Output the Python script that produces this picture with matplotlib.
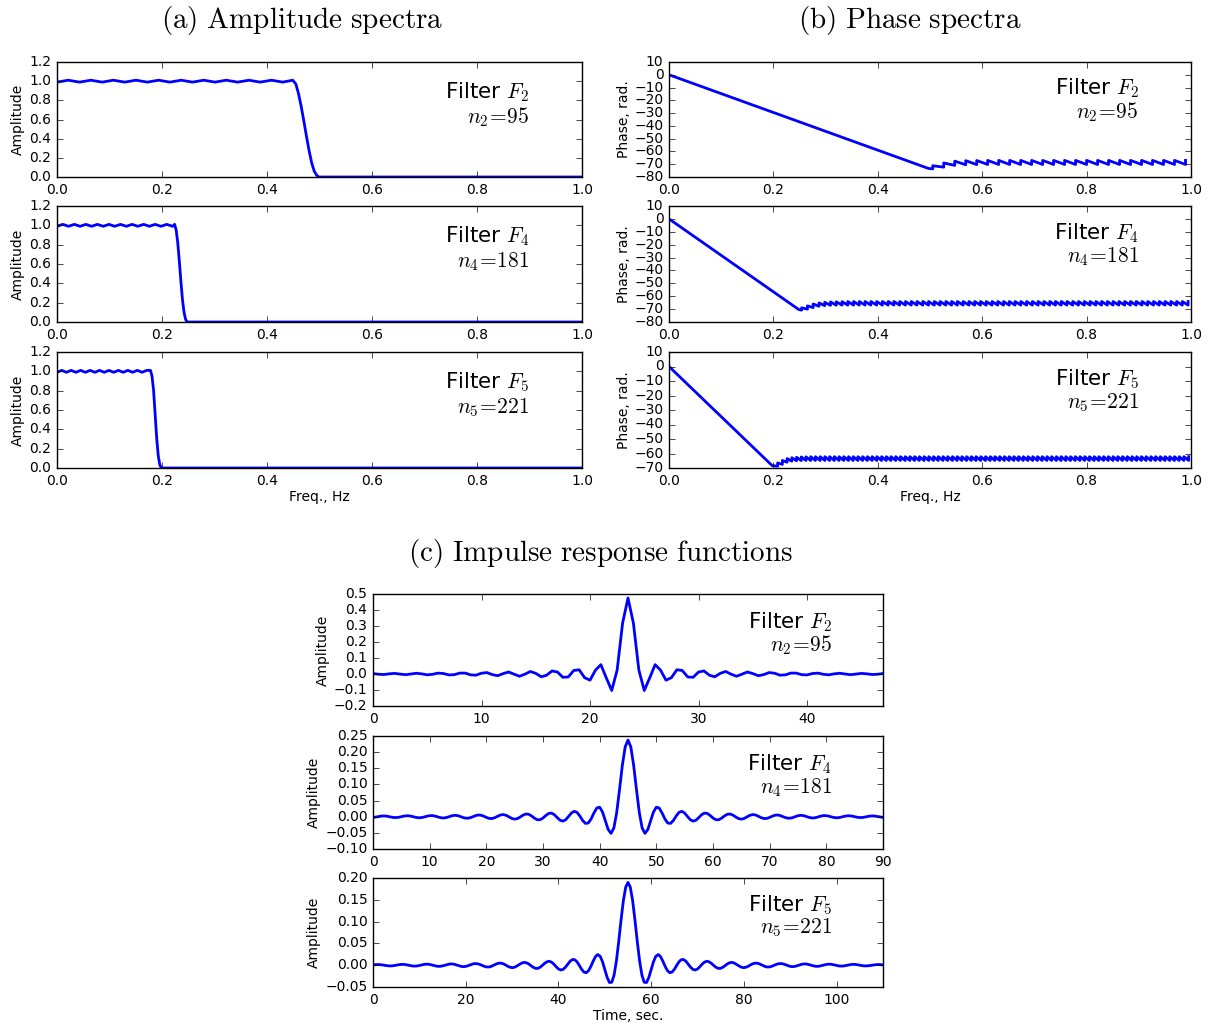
import numpy as np
import matplotlib
matplotlib.use('Agg')
import matplotlib.pyplot as plt

plt.style.use('classic')
plt.rcParams['figure.facecolor'] = 'white'
plt.rcParams['savefig.facecolor'] = 'white'
plt.rcParams['mathtext.fontset'] = 'cm'
plt.rcParams['font.family'] = ['DejaVu Sans']
plt.rcParams['axes.unicode_minus'] = True
plt.rcParams['xtick.labelsize'] = 10
plt.rcParams['ytick.labelsize'] = 10
plt.rcParams['axes.labelsize'] = 10

# ---------------------------------------------------------------- data
filter_ids = [2, 4, 5]
filter_lengths = [95, 181, 221]

# amplitude spectra (ripple extremes + transition band), Hz / amplitude
amp_f2_freq = [0.0, 0.0215, 0.043, 0.0645, 0.086, 0.1075, 0.129, 0.1505, 0.172, 0.1935,
               0.215, 0.2365, 0.258, 0.2795, 0.301, 0.3225, 0.344, 0.3655, 0.387, 0.4085,
               0.43, 0.449, 0.455, 0.46, 0.465, 0.47, 0.475, 0.48, 0.485, 0.49,
               0.495, 0.499, 1.0]
amp_f2_val = [0.99, 1.01, 0.99, 1.01, 0.99, 1.01, 0.99, 1.01, 0.99, 1.01,
              0.99, 1.01, 0.99, 1.01, 0.99, 1.01, 0.99, 1.01, 0.99, 1.01,
              0.99, 1.01, 0.97, 0.87, 0.74, 0.59, 0.43, 0.28, 0.15, 0.06,
              0.015, 0.0, 0.0]

amp_f4_freq = [0.0, 0.011, 0.022, 0.033, 0.044, 0.055, 0.066, 0.077, 0.088, 0.099,
               0.11, 0.121, 0.132, 0.143, 0.154, 0.165, 0.176, 0.187, 0.198, 0.209,
               0.22, 0.224, 0.227, 0.230, 0.233, 0.236, 0.239, 0.242, 0.245, 0.248, 1.0]
amp_f4_val = [0.99, 1.01, 0.99, 1.01, 0.99, 1.01, 0.99, 1.01, 0.99, 1.01,
              0.99, 1.01, 0.99, 1.01, 0.99, 1.01, 0.99, 1.01, 0.99, 1.01,
              0.99, 1.01, 0.95, 0.82, 0.63, 0.42, 0.23, 0.10, 0.025, 0.0, 0.0]

amp_f5_freq = [0.0, 0.009, 0.018, 0.027, 0.036, 0.045, 0.054, 0.063, 0.072, 0.081,
               0.09, 0.099, 0.108, 0.117, 0.126, 0.135, 0.144, 0.153, 0.162, 0.171,
               0.178, 0.181, 0.184, 0.187, 0.190, 0.193, 0.196, 0.199, 1.0]
amp_f5_val = [0.99, 1.01, 0.99, 1.01, 0.99, 1.01, 0.99, 1.01, 0.99, 1.01,
              0.99, 1.01, 0.99, 1.01, 0.99, 1.01, 0.99, 1.01, 0.99, 1.01,
              1.01, 0.95, 0.80, 0.55, 0.30, 0.12, 0.03, 0.0, 0.0]

# phase spectra: linear part end points, then stop-band teeth (jump position, bottom, top)
phase_f2_line = ([0.0, 0.497], [0.0, -73.3])
teeth_f2_freq = [0.5053, 0.5263, 0.5474, 0.5684, 0.5895, 0.6105, 0.6316, 0.6526, 0.6737, 0.6947,
                 0.7158, 0.7368, 0.7579, 0.7789, 0.8000, 0.8211, 0.8421, 0.8632, 0.8842, 0.9053,
                 0.9263, 0.9474, 0.9684, 0.9895]
teeth_f2_bottom = [-73.6, -72.3, -70.9, -70.4, -70.3, -70.2, -70.2, -70.2, -70.2, -70.2,
                   -70.2, -70.2, -70.2, -70.2, -70.2, -70.2, -70.2, -70.2, -70.2, -70.2,
                   -70.2, -70.2, -70.2, -70.2]
teeth_f2_top = [-71.2, -69.0, -67.6, -67.2, -67.1, -67.0, -67.0, -67.0, -67.0, -67.0,
                -67.0, -67.0, -67.0, -67.0, -67.0, -67.0, -67.0, -67.0, -67.0, -67.0,
                -67.0, -67.0, -67.0, -67.0]

phase_f4_line = ([0.0, 0.2485], [0.0, -70.3])
teeth_f4_freq = [0.2541, 0.2652, 0.2762, 0.2873, 0.2983, 0.3094, 0.3204, 0.3315, 0.3425, 0.3536,
                 0.3646, 0.3757, 0.3867, 0.3978, 0.4088, 0.4199, 0.4309, 0.4420, 0.4530, 0.4641,
                 0.4751, 0.4862, 0.4972, 0.5083, 0.5193, 0.5304, 0.5414, 0.5525, 0.5635, 0.5746,
                 0.5856, 0.5967, 0.6077, 0.6188, 0.6298, 0.6409, 0.6519, 0.6630, 0.6740, 0.6851,
                 0.6961, 0.7072, 0.7182, 0.7293, 0.7403, 0.7514, 0.7624, 0.7735, 0.7845, 0.7956,
                 0.8066, 0.8177, 0.8287, 0.8398, 0.8508, 0.8619, 0.8729, 0.8840, 0.8950, 0.9061,
                 0.9171, 0.9282, 0.9392, 0.9503, 0.9613, 0.9724, 0.9834, 0.9945]
teeth_f4_bottom = [-70.8, -70.0, -68.8, -67.8, -67.3, -67.1, -67.0, -66.9, -66.9, -66.9,
                   -66.9, -66.9, -66.9, -66.9, -66.9, -66.9, -66.9, -66.9, -66.9, -66.9,
                   -66.9, -66.9, -66.9, -66.9, -66.9, -66.9, -66.9, -66.9, -66.9, -66.9,
                   -66.9, -66.9, -66.9, -66.9, -66.9, -66.9, -66.9, -66.9, -66.9, -66.9,
                   -66.9, -66.9, -66.9, -66.9, -66.9, -66.9, -66.9, -66.9, -66.9, -66.9,
                   -66.9, -66.9, -66.9, -66.9, -66.9, -66.9, -66.9, -66.9, -66.9, -66.9,
                   -66.9, -66.9, -66.9, -66.9, -66.9, -66.9, -66.9, -66.9]
teeth_f4_top = [-69.0, -67.5, -66.0, -65.2, -64.7, -64.4, -64.3, -64.2, -64.1, -64.1,
                -64.1, -64.1, -64.1, -64.1, -64.1, -64.1, -64.1, -64.1, -64.1, -64.1,
                -64.1, -64.1, -64.1, -64.1, -64.1, -64.1, -64.1, -64.1, -64.1, -64.1,
                -64.1, -64.1, -64.1, -64.1, -64.1, -64.1, -64.1, -64.1, -64.1, -64.1,
                -64.1, -64.1, -64.1, -64.1, -64.1, -64.1, -64.1, -64.1, -64.1, -64.1,
                -64.1, -64.1, -64.1, -64.1, -64.1, -64.1, -64.1, -64.1, -64.1, -64.1,
                -64.1, -64.1, -64.1, -64.1, -64.1, -64.1, -64.1, -64.1]

phase_f5_line = ([0.0, 0.1975], [0.0, -68.3])
teeth_f5_freq = [0.2081, 0.2172, 0.2262, 0.2353, 0.2443, 0.2534, 0.2624, 0.2715, 0.2805, 0.2896,
                 0.2986, 0.3077, 0.3167, 0.3258, 0.3348, 0.3439, 0.3529, 0.3620, 0.3710, 0.3801,
                 0.3891, 0.3982, 0.4072, 0.4163, 0.4253, 0.4344, 0.4434, 0.4525, 0.4615, 0.4706,
                 0.4796, 0.4887, 0.4977, 0.5068, 0.5158, 0.5249, 0.5339, 0.5430, 0.5520, 0.5611,
                 0.5701, 0.5792, 0.5882, 0.5973, 0.6063, 0.6154, 0.6244, 0.6335, 0.6425, 0.6516,
                 0.6606, 0.6697, 0.6787, 0.6878, 0.6968, 0.7059, 0.7149, 0.7240, 0.7330, 0.7421,
                 0.7511, 0.7602, 0.7692, 0.7783, 0.7873, 0.7964, 0.8054, 0.8145, 0.8235, 0.8326,
                 0.8416, 0.8507, 0.8597, 0.8688, 0.8778, 0.8869, 0.8959, 0.9050, 0.9140, 0.9231,
                 0.9321, 0.9412, 0.9502, 0.9593, 0.9683, 0.9774, 0.9864, 0.9955]
teeth_f5_bottom = [-68.8, -67.5, -66.0, -65.3, -65.0, -64.9, -64.8, -64.8, -64.8, -64.8,
                   -64.8, -64.8, -64.8, -64.8, -64.8, -64.8, -64.8, -64.8, -64.8, -64.8,
                   -64.8, -64.8, -64.8, -64.8, -64.8, -64.8, -64.8, -64.8, -64.8, -64.8,
                   -64.8, -64.8, -64.8, -64.8, -64.8, -64.8, -64.8, -64.8, -64.8, -64.8,
                   -64.8, -64.8, -64.8, -64.8, -64.8, -64.8, -64.8, -64.8, -64.8, -64.8,
                   -64.8, -64.8, -64.8, -64.8, -64.8, -64.8, -64.8, -64.8, -64.8, -64.8,
                   -64.8, -64.8, -64.8, -64.8, -64.8, -64.8, -64.8, -64.8, -64.8, -64.8,
                   -64.8, -64.8, -64.8, -64.8, -64.8, -64.8, -64.8, -64.8, -64.8, -64.8,
                   -64.8, -64.8, -64.8, -64.8, -64.8, -64.8, -64.8, -64.8]
teeth_f5_top = [-66.5, -64.8, -63.5, -62.9, -62.6, -62.4, -62.3, -62.2, -62.2, -62.2,
                -62.2, -62.2, -62.2, -62.2, -62.2, -62.2, -62.2, -62.2, -62.2, -62.2,
                -62.2, -62.2, -62.2, -62.2, -62.2, -62.2, -62.2, -62.2, -62.2, -62.2,
                -62.2, -62.2, -62.2, -62.2, -62.2, -62.2, -62.2, -62.2, -62.2, -62.2,
                -62.2, -62.2, -62.2, -62.2, -62.2, -62.2, -62.2, -62.2, -62.2, -62.2,
                -62.2, -62.2, -62.2, -62.2, -62.2, -62.2, -62.2, -62.2, -62.2, -62.2,
                -62.2, -62.2, -62.2, -62.2, -62.2, -62.2, -62.2, -62.2, -62.2, -62.2,
                -62.2, -62.2, -62.2, -62.2, -62.2, -62.2, -62.2, -62.2, -62.2, -62.2,
                -62.2, -62.2, -62.2, -62.2, -62.2, -62.2, -62.2, -62.2]

# impulse responses: sample spacing 0.5 s, values from the centre sample outward
# (filters are symmetric / linear phase)
dt_sec = 0.5
imp_f2_half = [0.475, 0.317, 0.025, -0.103, -0.0245, 0.0585, 0.024, -0.0385, -0.023, 0.0265,
               0.022, -0.0183, -0.0207, 0.0122, 0.0191, -0.0075, -0.0174, 0.004, 0.0158, -0.0012,
               -0.0141, -0.0011, 0.0124, 0.0027, -0.0106, -0.0041, 0.0089, 0.005, -0.0072, -0.0054,
               0.0056, 0.0057, -0.0041, -0.0057, 0.0029, 0.0055, -0.0017, -0.0052, 0.0008, 0.0047,
               0.0, -0.0043, -0.0006, 0.0038, 0.0011, -0.0033, -0.0015, 0.0028]
imp_f4_half = [0.2375, 0.2161, 0.1587, 0.0833, 0.0124, -0.0354, -0.0516, -0.0396, -0.0123, 0.0148,
               0.0294, 0.0271, 0.0120, -0.0066, -0.0194, -0.0208, -0.0117, 0.0022, 0.0134, 0.0167,
               0.0112, 0.0006, -0.0094, -0.0137, -0.0107, -0.0025, 0.0064, 0.0113, 0.0101, 0.0038,
               -0.0041, -0.0092, -0.0094, -0.0047, 0.0021, 0.0074, 0.0084, 0.0051, -0.0007, -0.0057,
               -0.0076, -0.0054, -0.0006, 0.0043, 0.0066, 0.0054, 0.0015, -0.0030, -0.0057, -0.0053,
               -0.0022, 0.0020, 0.0049, 0.0051, 0.0027, -0.0010, -0.0040, -0.0047, -0.0031, 0.0002,
               0.0032, 0.0044, 0.0033, 0.0005, -0.0024, -0.0039, -0.0033, -0.0010, 0.0017, 0.0034,
               0.0033, 0.0015, -0.0011, -0.0029, -0.0032, -0.0018, 0.0005, 0.0024, 0.0030, 0.0020,
               0.0, -0.0019, -0.0027, -0.0021, -0.0004, 0.0014, 0.0024, 0.0021, 0.0007, -0.0010,
               -0.0021]
imp_f5_half = [0.1900, 0.1789, 0.1480, 0.1035, 0.0545, 0.0100, -0.0226, -0.0391, -0.0397, -0.0280,
               -0.0098, 0.0081, 0.0204, 0.0244, 0.0199, 0.0096, -0.0025, -0.0124, -0.0171, -0.0158,
               -0.0094, -0.0005, 0.0078, 0.0127, 0.0130, 0.0090, 0.0023, -0.0047, -0.0096, -0.0110,
               -0.0086, -0.0035, 0.0025, 0.0071, 0.0091, 0.0078, 0.0041, -0.0008, -0.0050, -0.0074,
               -0.0071, -0.0045, -0.0005, 0.0035, 0.0059, 0.0063, 0.0045, 0.0013, -0.0021, -0.0048,
               -0.0056, -0.0045, -0.0020, 0.0011, 0.0037, 0.0048, 0.0043, 0.0023, -0.0002, -0.0027,
               -0.0041, -0.0040, -0.0026, -0.0004, 0.0019, 0.0034, 0.0037, 0.0028, 0.0009, -0.0012,
               -0.0028, -0.0033, -0.0027, -0.0012, 0.0006, 0.0022, 0.0029, 0.0027, 0.0015, -0.0001,
               -0.0016, -0.0025, -0.0026, -0.0017, -0.0003, 0.0011, 0.0021, 0.0023, 0.0018, 0.0006,
               -0.0007, -0.0017, -0.0021, -0.0018, -0.0008, 0.0003, 0.0014, 0.0019, 0.0017, 0.0010,
               0.0, -0.0010, -0.0016, -0.0016, -0.0011, -0.0003, 0.0007, 0.0013, 0.0015, 0.0012,
               0.0005]


def phase_path(line, teeth_freq, bottoms, tops):
    """Join the linear pass-band phase and the stop-band saw teeth into one path."""
    x = list(line[0])
    y = list(line[1])
    for f, b, t in zip(teeth_freq, bottoms, tops):
        x += [f, f]
        y += [b, t]
    return x, y


def full_response(half):
    half = np.asarray(half)
    return np.concatenate([half[:0:-1], half])


amp_data = [(amp_f2_freq, amp_f2_val), (amp_f4_freq, amp_f4_val), (amp_f5_freq, amp_f5_val)]
phase_data = [phase_path(phase_f2_line, teeth_f2_freq, teeth_f2_bottom, teeth_f2_top),
              phase_path(phase_f4_line, teeth_f4_freq, teeth_f4_bottom, teeth_f4_top),
              phase_path(phase_f5_line, teeth_f5_freq, teeth_f5_bottom, teeth_f5_top)]
imp_data = [full_response(imp_f2_half), full_response(imp_f4_half), full_response(imp_f5_half)]

# ---------------------------------------------------------------- figure
W, H = 1208.0, 1023.0
fig = plt.figure(figsize=(W / 100, H / 100), dpi=100)


def px_axes(left, top, right, bottom):
    return fig.add_axes([left / W, 1 - bottom / H, (right - left) / W, (bottom - top) / H])


def filter_label(ax, fid, n, fy, ny):
    ax.text(0.9, fy, 'Filter $F_%d$' % fid, transform=ax.transAxes,
            ha='right', va='center', fontsize=15.5)
    ax.text(0.9, ny, r'$n_%d\!=\!%d$' % (fid, n), transform=ax.transAxes,
            ha='right', va='center', fontsize=15.5)


rows_ab = [(62, 177), (206, 322), (352, 468)]
blue = '#0000ff'

# (a) amplitude spectra
for i, (top, bot) in enumerate(rows_ab):
    ax = px_axes(57, top, 582, bot)
    f, a = amp_data[i]
    ax.plot(f, a, color=blue, lw=2)
    ax.set_xlim(0, 1)
    ax.set_ylim(0, 1.2)
    ax.set_xticks(np.arange(0, 1.01, 0.2))
    ax.set_yticks(np.arange(0, 1.21, 0.2))
    ax.set_ylabel('Amplitude', labelpad=3)
    filter_label(ax, filter_ids[i], filter_lengths[i], 0.74, 0.52)
    if i == 2:
        ax.set_xlabel('Freq., Hz', labelpad=2)

# (b) phase spectra
phase_ylims = [(-80, 10), (-80, 10), (-70, 10)]
for i, (top, bot) in enumerate(rows_ab):
    ax = px_axes(669, top, 1191, bot)
    f, p = phase_data[i]
    ax.plot(f, p, color=blue, lw=2)
    ax.set_xlim(0, 1)
    ax.set_ylim(*phase_ylims[i])
    ax.set_xticks(np.arange(0, 1.01, 0.2))
    ax.set_yticks(np.arange(phase_ylims[i][0], 10.1, 10))
    ax.set_ylabel('Phase, rad.', labelpad=2)
    filter_label(ax, filter_ids[i], filter_lengths[i], 0.77, 0.56)
    if i == 2:
        ax.set_xlabel('Freq., Hz', labelpad=2)

# (c) impulse responses
rows_c = [(594, 706), (736, 849), (878, 987)]
imp_xlims = [47, 90, 110]
imp_xticks = [10, 10, 20]
imp_ylims = [(-0.2, 0.5), (-0.10, 0.25), (-0.05, 0.20)]
imp_ysteps = [0.1, 0.05, 0.05]
for i, (top, bot) in enumerate(rows_c):
    ax = px_axes(373, top, 883, bot)
    h = imp_data[i]
    t = np.arange(len(h)) * dt_sec
    ax.plot(t, h, color=blue, lw=2)
    ax.set_xlim(0, imp_xlims[i])
    ax.set_ylim(*imp_ylims[i])
    ax.set_xticks(np.arange(0, imp_xlims[i] + 0.1, imp_xticks[i]))
    lo, hi = imp_ylims[i]
    ax.set_yticks(np.arange(lo, hi + 1e-6, imp_ysteps[i]))
    ax.set_ylabel('Amplitude', labelpad=3)
    filter_label(ax, filter_ids[i], filter_lengths[i], 0.75, 0.54)
    if i == 2:
        ax.set_xlabel('Time, sec.', labelpad=2)

fig.text(0.25, 0.980, r'$\mathrm{(a)\ Amplitude\ spectra}$', ha='center', va='center', fontsize=21)
fig.text(0.753, 0.980, r'$\mathrm{(b)\ Phase\ spectra}$', ha='center', va='center', fontsize=21)
fig.text(0.4975, 0.4594, r'$\mathrm{(c)\ Impulse\ response\ functions}$', ha='center', va='center',
         fontsize=21)

fig.savefig('out.png', dpi=100)
